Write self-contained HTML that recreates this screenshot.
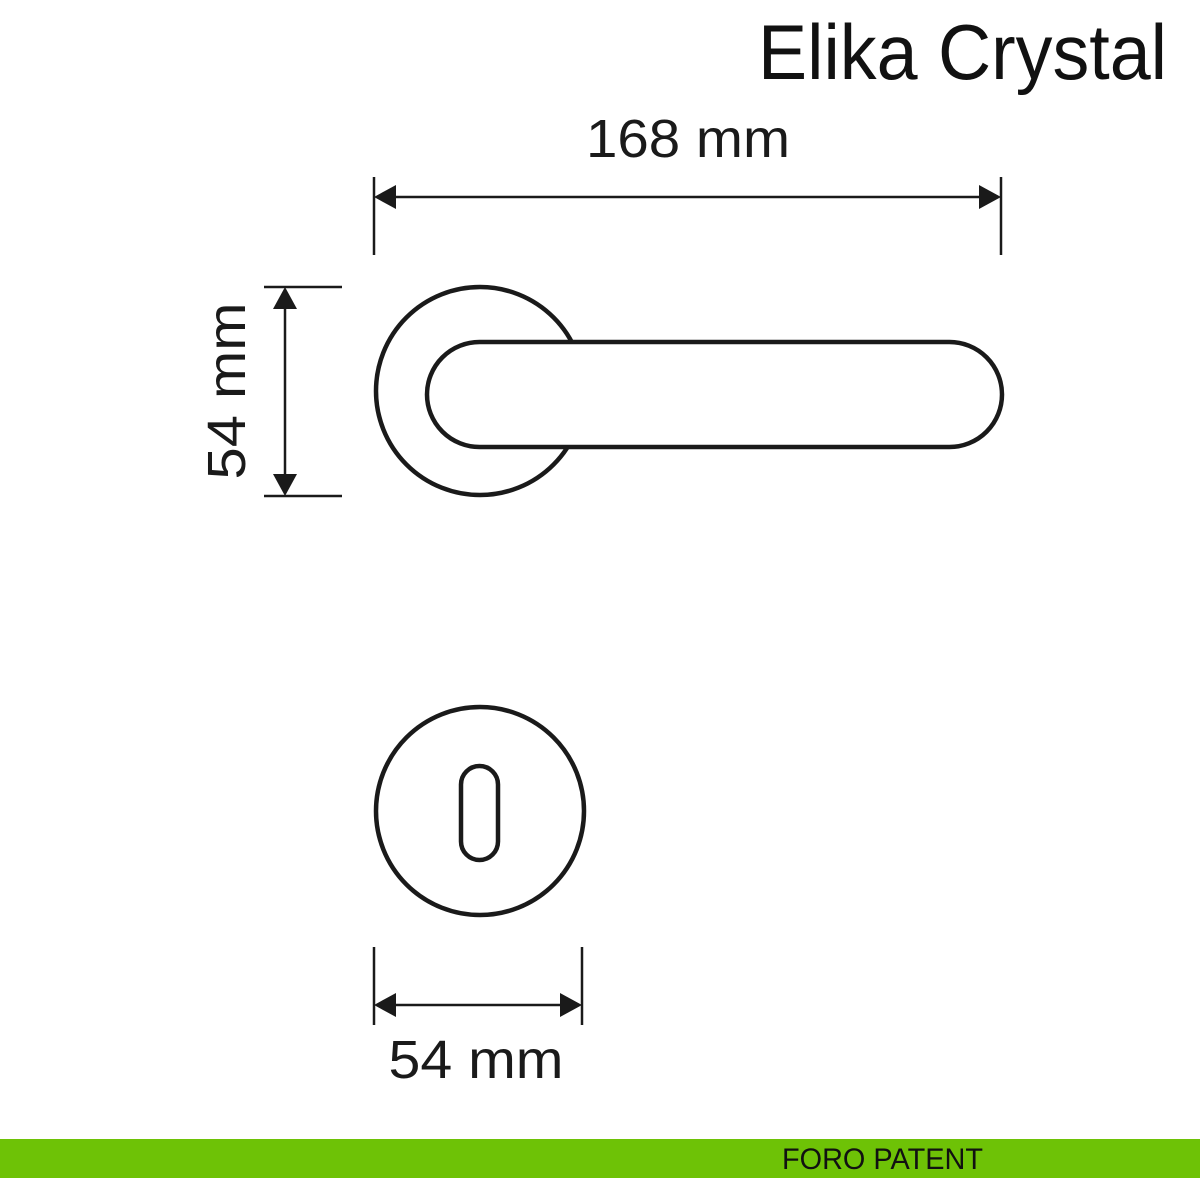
<!DOCTYPE html>
<html><head><meta charset="utf-8"><style>html,body{margin:0;padding:0;background:#fff}svg{display:block}</style></head>
<body>
<svg width="1200" height="1200" viewBox="0 0 1200 1200" xmlns="http://www.w3.org/2000/svg">
<rect width="1200" height="1200" fill="#fff"/>
<text x="1167" y="79" text-anchor="end" font-family="Liberation Sans, sans-serif" font-size="78" textLength="409" lengthAdjust="spacingAndGlyphs" fill="#111">Elika Crystal</text>
<text x="688" y="157" text-anchor="middle" font-family="Liberation Sans, sans-serif" font-size="54" textLength="204" lengthAdjust="spacingAndGlyphs" fill="#1a1a1a">168 mm</text>
<g stroke="#1a1a1a" stroke-width="2.5" fill="none">
<line x1="374" y1="177" x2="374" y2="255"/>
<line x1="1001" y1="177" x2="1001" y2="255"/>
<line x1="390" y1="197" x2="985" y2="197"/>
<line x1="264" y1="287" x2="342" y2="287"/>
<line x1="264" y1="496" x2="342" y2="496"/>
<line x1="285" y1="300" x2="285" y2="483"/>
<line x1="374" y1="947" x2="374" y2="1025"/>
<line x1="582" y1="947" x2="582" y2="1025"/>
<line x1="390" y1="1005" x2="566" y2="1005"/>
</g>
<g fill="#1a1a1a">
<polygon points="374,197 396,185 396,209"/>
<polygon points="1001,197 979,185 979,209"/>
<polygon points="285,287 273,309 297,309"/>
<polygon points="285,496 273,474 297,474"/>
<polygon points="374,1005 396,993 396,1017"/>
<polygon points="582,1005 560,993 560,1017"/>
</g>
<text transform="translate(245,391) rotate(-90)" text-anchor="middle" font-family="Liberation Sans, sans-serif" font-size="54" textLength="177" lengthAdjust="spacingAndGlyphs" fill="#1a1a1a">54 mm</text>
<text x="476" y="1078" text-anchor="middle" font-family="Liberation Sans, sans-serif" font-size="54" textLength="175" lengthAdjust="spacingAndGlyphs" fill="#1a1a1a">54 mm</text>
<g stroke="#1a1a1a" stroke-width="4.5" fill="#fff">
<circle cx="480" cy="391" r="104"/>
<rect x="427" y="342" width="575" height="105" rx="52.5" ry="52.5"/>
<circle cx="480" cy="811" r="104"/>
<rect x="461" y="766" width="37" height="94" rx="18.5" ry="18.5"/>
</g>
<rect x="0" y="1139" width="1200" height="39" fill="#6ec206"/>
<text x="782" y="1169" font-family="Liberation Sans, sans-serif" font-size="30" textLength="201" lengthAdjust="spacingAndGlyphs" fill="#111">FORO PATENT</text>
</svg>
</body></html>
